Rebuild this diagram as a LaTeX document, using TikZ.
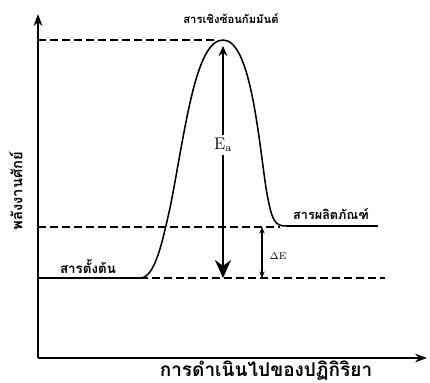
\documentclass[tikz,border=0pt]{standalone}
\usepackage{fontspec}
\usepackage{amsmath}
\newfontfamily\thaifont[Script=Thai]{Loma}
\usetikzlibrary{arrows.meta,positioning}

\begin{document}
\begin{tikzpicture}[x=0.025cm, y=0.025cm,
  axis/.style={-{Stealth[length=3mm, width=2.2mm]}, line width=1pt},
  level/.style={dashed, dash pattern=on 2mm off 1mm, line width=0.8pt},
  curve/.style={line width=1.1pt},
  lbl/.style={font=\thaifont\bfseries\fontsize{8}{9}\selectfont, inner sep=1pt},
  gap/.style={-{Stealth[length=2.2mm, width=1.8mm]}, line width=1pt},
]
  \useasboundingbox (0,0) rectangle (430,383);

  % axes
  \coordinate (o) at (38,25);
  \coordinate (ytop) at (38,369);
  \coordinate (xend) at (427,25);
  \draw[axis] (o) -- (ytop);
  \draw[axis] (o) -- (xend);
  \node[lbl, anchor=south, font=\thaifont\bfseries\fontsize{13.5}{15}\selectfont] (xlab) at (266,1) {การดำเนินไปของปฏิกิริยา};
  \node[lbl, font=\thaifont\bfseries\fontsize{10.5}{12}\selectfont, rotate=90] (ylab) at (16,192) {พลังงานศักย์};

  % energy levels
  \coordinate (peakl) at (38,343);
  \coordinate (peakr) at (217,343);
  \coordinate (prodl) at (38,156);
  \coordinate (prodr) at (280,156);
  \coordinate (reacl) at (140,105);
  \coordinate (reacr) at (385,105);
  \draw[level] (peakl) -- (peakr);
  \draw[level] (prodl) -- (prodr);
  \draw[level] (reacl) -- (reacr);

  % reaction profile
  \draw[curve] (38,105) -- (140,105)
    .. controls (155,105) and (162,140) .. (170,175)
    .. controls (185,250) and (195,343) .. (223,343)
    .. controls (250,343) and (258,250) .. (266,195)
    .. controls (272,160) and (275,157) .. (287,157)
    -- (378,157);

  \node[lbl] (complex) at (231,364) {สารเชิงซ้อนกัมมันต์};
  \node[lbl, font=\thaifont\bfseries\fontsize{9}{10}\selectfont] (product) at (331,169) {สารผลิตภัณฑ์};
  \node[lbl, font=\thaifont\bfseries\fontsize{9.5}{11}\selectfont] (reactant) at (88,117) {สารตั้งต้น};

  % activation energy
  \node[font=\large, inner sep=2pt] (ea) at (223,238) {$\mathrm{E}_{\mathrm{a}}$};
  \coordinate (eatop) at (223,337);
  \coordinate (eabot) at (223,105);
  \draw[-{Stealth[length=2.5mm, width=2.2mm]}, line width=1pt] (ea) -- (eatop);
  \draw[-{Stealth[length=4.5mm, width=4mm]}, line width=1.3pt] (ea) -- (eabot);

  % enthalpy change
  \coordinate (detop) at (262,156);
  \coordinate (debot) at (262,105);
  \draw[{Stealth[length=1.6mm, width=1.3mm]}-{Stealth[length=1.6mm, width=1.3mm]}, line width=0.8pt] (detop) -- (debot);
  \node[font=\scriptsize, inner sep=1pt] (de) at (278,127) {$\Delta\mathrm{E}$};
\end{tikzpicture}
\end{document}
